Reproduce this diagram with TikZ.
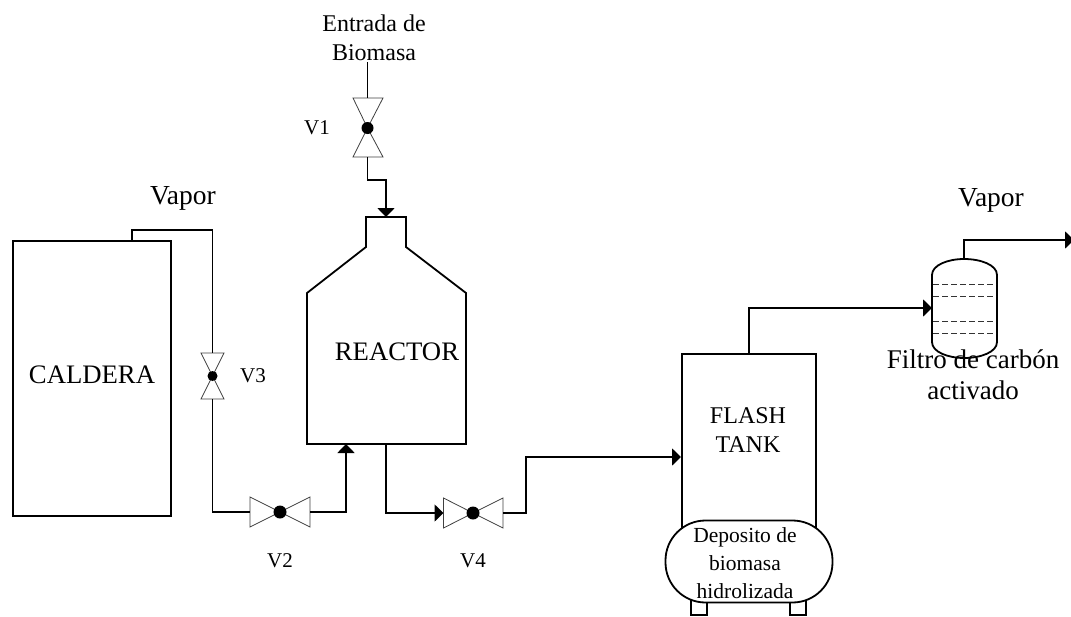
\documentclass[tikz,border=0pt]{standalone}
\usepackage{fontspec}
\setmainfont{Liberation Serif}
\usetikzlibrary{arrows.meta,calc}
\tikzset{
  x=1pt,y=-1pt,
  equip/.style={draw=black,line width=1.8pt,fill=white},
  pipe/.style={draw=black,line width=1.8pt},
  feed/.style={pipe,-{Triangle[length=9pt,width=17pt]}},
  valvetri/.style={draw=black!75,line width=0.8pt,fill=white},
  stem/.style={circle,fill=black,draw=none,inner sep=0pt,minimum size=#1},
  big/.style={font=\fontsize{26.7}{28}\selectfont,inner sep=0pt},
  vap/.style={font=\fontsize{27.5}{28}\selectfont,inner sep=0pt},
  small/.style={font=\fontsize{21.5}{28}\selectfont,inner sep=0pt,align=center},
  mid/.style={font=\fontsize{24}{29}\selectfont,inner sep=0pt,align=center},
  vtag/.style={font=\fontsize{21}{24}\selectfont,inner sep=0pt},
  tray/.style={draw=black!80,line width=0.9pt,dash pattern=on 6pt off 3pt},
}
\begin{document}
\begin{tikzpicture}
\useasboundingbox (0,0) rectangle (1071,616);
% equipment
\node[equip,draw,minimum width=158pt,minimum height=275pt,inner sep=0pt,anchor=north west] (caldera) at (12,240) {};
\node[big] (calderalabel) at (92,375) {CALDERA};

\coordinate (rNL) at (366,217);
\coordinate (rNR) at (406,217);
\coordinate (rBL) at (307,444);
\coordinate (rBR) at (466,444);
\draw[equip] (rNL) -- (366,247) -- (307,293) -- (rBL) -- (rBR) -- (466,293) -- (406,247) -- (rNR) -- cycle;
\node[big] (reactorlabel) at (397,352) {REACTOR};

\node[equip,draw,minimum width=134pt,minimum height=180pt,inner sep=0pt,anchor=north west] (flash) at (681,353) {};
\node[mid] (flashlabel) at (748,430) {FLASH\\TANK};

% feet and deposit
\draw[equip] (691,600) rectangle (707,615);
\draw[equip] (790,600) rectangle (806,615);
\node[equip,draw,rounded corners=40pt,minimum width=167pt,minimum height=82pt,inner sep=0pt] (deposito) at (749,561.5) {};
\node[small] (depositolabel) at (745,563) {Deposito de\\biomasa\\hidrolizada};

% filter
\coordinate (fT) at (964,259);
\coordinate (fL) at (932,308);
\draw[equip] (932,275) .. controls (932,265) and (948,259) .. (fT) .. controls (981,259) and (997,265) .. (997,275) -- (997,342) .. controls (997,352) and (981,358) .. (964,358) .. controls (948,358) and (932,352) .. (932,342) -- cycle;
\foreach \yy in {284,296,321,333} \draw[tray] (933,\yy) -- (996,\yy);

% valves
\coordinate (v1) at (367.5,128);
\coordinate (v1t) at (367.5,98);
\coordinate (v1b) at (367.5,157);
\draw[valvetri] (353,98) -- (383,98) -- (v1) -- cycle;
\draw[valvetri] (353,157) -- (383,157) -- (v1) -- cycle;
\node[stem=12pt] (v1dot) at (v1) {};

\coordinate (v3) at (212.5,376);
\coordinate (v3t) at (212.5,353);
\coordinate (v3b) at (212.5,399);
\draw[valvetri] (201,353) -- (224,353) -- (v3) -- cycle;
\draw[valvetri] (201,399) -- (224,399) -- (v3) -- cycle;
\node[stem=10pt] (v3dot) at (v3) {};

\coordinate (v2) at (280,512);
\coordinate (v2l) at (250,512);
\coordinate (v2r) at (310,512);
\draw[valvetri] (250,497) -- (250,527) -- (v2) -- cycle;
\draw[valvetri] (310,497) -- (310,527) -- (v2) -- cycle;
\node[stem=13pt] (v2dot) at (v2) {};

\coordinate (v4) at (473,513);
\coordinate (v4l) at (443.5,513);
\coordinate (v4r) at (503,513);
\draw[valvetri] (443.5,498) -- (443.5,528) -- (v4) -- cycle;
\draw[valvetri] (503,498) -- (503,528) -- (v4) -- cycle;
\node[stem=13pt] (v4dot) at (v4) {};

% connectors
\coordinate (inB) at (367.5,62);
\coordinate (calOut) at (132,240);
\coordinate (rIn) at (386,217);
\coordinate (rOut) at (386,444);
\coordinate (rSteam) at (346,444);
\coordinate (fIn) at (681,457);
\coordinate (flashOut) at (749,353);
\coordinate (ventEnd) at (1074,240);
\draw[pipe] (inB) -- (v1t);
\draw[feed] (v1b) -- (367.5,180) -- (386,180) -- (rIn);
\draw[pipe] (calOut) -- (132,230) -- (212.5,230) -- (v3t);
\draw[pipe] (v3b) -- (212.5,512) -- (v2l);
\draw[feed] (v2r) -- (346,512) -- (rSteam);
\draw[feed] (rOut) -- (386,513) -- (v4l);
\draw[feed] (v4r) -- (526,513) -- (526,457) -- (fIn);
\draw[feed] (flashOut) -- (749,308) -- (fL);
\draw[feed] (fT) -- (964,240) -- (ventEnd);

% labels
\node[mid,font=\fontsize{24}{29}\selectfont] (entrada) at (374,37.5) {Entrada de\\Biomasa};
\node[vap] (vapor1) at (183,198) {Vapor};
\node[vap] (vapor2) at (991,200) {Vapor};
\node[vtag] (v1label) at (317,128) {V1};
\node[vtag] (v3label) at (253,376) {V3};
\node[vtag] (v2label) at (280,561) {V2};
\node[vtag] (v4label) at (473,561) {V4};
\node[font=\fontsize{27}{31}\selectfont,inner sep=0pt,align=center] (filtro) at (973,375) {Filtro de carbón\\activado};
\end{tikzpicture}
\end{document}
